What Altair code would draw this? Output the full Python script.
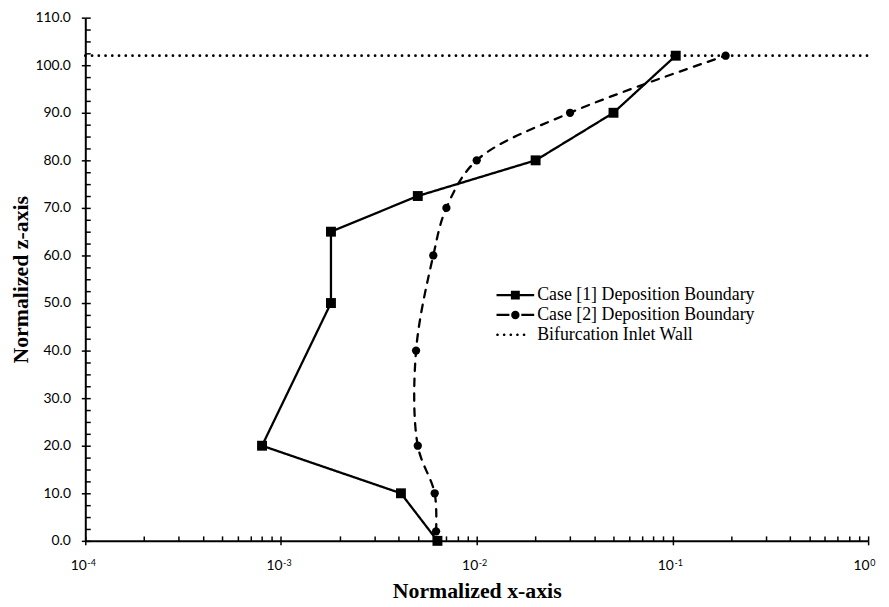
import altair as alt
import pandas as pd

# ---- data ----
names = ["Case [1] Deposition Boundary", "Case [2] Deposition Boundary", "Bifurcation Inlet Wall"]

case1_x = [0.0063, 0.0041, 0.0008, 0.0018, 0.0018, 0.0050, 0.020, 0.050, 0.104]
case1_z = [0.0, 10.0, 20.0, 50.0, 65.0, 72.5, 80.0, 90.0, 102.0]

case2_x = [0.0062, 0.0061, 0.0050, 0.0049, 0.0060, 0.0070, 0.0100, 0.030, 0.187]
case2_z = [2.0, 10.0, 20.0, 40.0, 60.0, 70.0, 80.0, 90.0, 102.0]

wall_x = [0.0001, 1.0]
wall_z = [102.0, 102.0]

x_major = [0.0001, 0.001, 0.01, 0.1, 1.0]
x_exp = ["-4", "-3", "-2", "-1", "0"]
x_all = [round(m * 10.0 ** e, 6) for e in range(-4, 0) for m in range(1, 10)] + [1.0]
y_major = [float(v) for v in range(0, 111, 10)]
y_all = [i * 2.5 for i in range(45)]

df1 = pd.DataFrame({"x": case1_x, "z": case1_z, "series": names[0], "idx": list(range(len(case1_x)))})
df2 = pd.DataFrame({"x": case2_x, "z": case2_z, "series": names[1], "idx": list(range(len(case2_x)))})
dfw = pd.DataFrame({"x": wall_x, "z": wall_z, "series": names[2], "idx": [0, 1]})
dfl = pd.DataFrame({"series": names})

xscale = alt.Scale(type="log", domain=[0.0001, 1.0], nice=False)
yscale = alt.Scale(domain=[0, 110], nice=False, zero=False)
# dash scale listed in a different order than the legend scale so the two do not merge
dash_scale = alt.Scale(domain=[names[2], names[0], names[1]],
                       range=[[0.1, 6.7], [1, 0], [7.5, 7.5]])


# legend glyphs (unit = 5 px at symbol size 100)
def circ(cx, r):
    return f"M{cx - r:.3f},0A{r},{r} 0 1,0 {cx + r:.3f},0A{r},{r} 0 1,0 {cx - r:.3f},0Z"


glyph1 = "M-3.8,-0.23H3.8V0.23H-3.8Z M-0.9,-0.9H0.9V0.9H-0.9Z"
glyph2 = "M-3.8,-0.23H-1.2V0.23H-3.8Z M1.2,-0.23H3.8V0.23H1.2Z " + circ(0, 0.85)
glyph3 = " ".join(circ(-3.6 + k * 1.34, 0.27) for k in range(5))

exp_expr = " : ".join(
    f"datum.value < {v * 5:g} ? '{e}'" for v, e in zip(x_major[:-1], x_exp[:-1])
) + f" : '{x_exp[-1]}'"

x_main = alt.Axis(values=x_major, labelExpr="'10'", orient="bottom", grid=False,
                  title="Normalized x-axis", titleFont="Liberation Serif", titleFontSize=22,
                  titleFontWeight="bold", titleColor="black", titleBaseline="alphabetic",
                  titleY=57,
                  labelFont="Lato", labelFontSize=14, labelColor="black", labelPadding=14,
                  labelAlign="right", labelOffset=1,
                  tickSize=4, tickWidth=1.5, tickColor="black",
                  domainColor="black", domainWidth=2)
x_sup = alt.Axis(values=x_major, labelExpr=exp_expr, orient="bottom", grid=False, title="",
                 labelFont="Lato", labelFontSize=9, labelColor="black", labelPadding=14,
                 labelAlign="left", labelOffset=1.6, tickSize=4, tickOpacity=0, domain=False)
y_main = alt.Axis(values=y_major, format=".1f", orient="left", grid=False,
                  title="Normalized z-axis", titleFont="Liberation Serif", titleFontSize=22,
                  titleFontWeight="bold", titleColor="#000000", titlePadding=3,
                  labelFont="Lato", labelFontSize=14, labelColor="black", labelPadding=11,
                  tickSize=4, tickWidth=1.5, tickColor="black",
                  domainColor="black", domainWidth=2)
x_in = alt.Axis(values=x_all, orient="bottom", offset=-5, tickSize=5, labels=False,
                domain=False, grid=False, title="", tickColor="black", tickWidth=1.5)
y_in = alt.Axis(values=y_all, orient="left", offset=-5, tickSize=5, labels=False,
                domain=False, grid=False, title="", tickColor="black", tickWidth=1.5)

dash_enc = alt.StrokeDash("series:N", scale=dash_scale, legend=None)

l1 = alt.Chart(df1).mark_line(color="black", strokeWidth=2.3, strokeCap="round",
                              strokeJoin="round").encode(
    x=alt.X("x:Q", scale=xscale, axis=x_main),
    y=alt.Y("z:Q", scale=yscale, axis=y_main),
    strokeDash=dash_enc,
    order=alt.Order("idx:Q"),
)
l2 = alt.Chart(df2).mark_line(color="black", strokeWidth=2.3, strokeCap="round",
                              interpolate="catmull-rom").encode(
    x=alt.X("x:Q", scale=xscale, axis=None),
    y=alt.Y("z:Q", scale=yscale, axis=None),
    strokeDash=dash_enc,
    order=alt.Order("idx:Q"),
)
wall = alt.Chart(dfw).mark_line(color="black", strokeWidth=2.7, strokeCap="round").encode(
    x=alt.X("x:Q", scale=xscale, axis=x_in),
    y=alt.Y("z:Q", scale=yscale, axis=y_in),
    strokeDash=dash_enc,
    order=alt.Order("idx:Q"),
)
p1 = alt.Chart(df1).mark_point(shape="square", filled=True, size=100, color="black",
                               opacity=1).encode(
    x=alt.X("x:Q", scale=xscale, axis=x_sup),
    y=alt.Y("z:Q", scale=yscale, axis=None),
)
p2 = alt.Chart(df2).mark_point(shape="circle", filled=True, size=70, color="black",
                               opacity=1).encode(
    x=alt.X("x:Q", scale=xscale, axis=None),
    y=alt.Y("z:Q", scale=yscale, axis=None),
)

legend = alt.Legend(orient="none", legendX=425, legendY=271, symbolSize=100,
                    labelFont="Liberation Serif", labelFontSize=18, labelColor="black",
                    labelOffset=13, labelLimit=400, rowPadding=2, padding=0,
                    symbolFillColor="black", symbolStrokeColor="black",
                    symbolStrokeWidth=0.5, symbolOpacity=1)
leg = alt.Chart(dfl).mark_point(
    filled=True, size=100, color="black", opacity=0
).encode(
    shape=alt.Shape("series:N", scale=alt.Scale(domain=names, range=[glyph1, glyph2, glyph3]),
                    legend=legend, title=None),
)

chart = alt.layer(l1, l2, wall, p1, p2, leg).resolve_axis(
    x="independent", y="independent"
).properties(
    width=790, height=528,
    autosize=alt.AutoSizeParams(type="none"),
    padding={"left": 78, "top": 7, "right": 13, "bottom": 62},
    background="white",
).configure_view(stroke=None)

chart.save("out.html", embed_options={"renderer": "svg", "actions": False})
